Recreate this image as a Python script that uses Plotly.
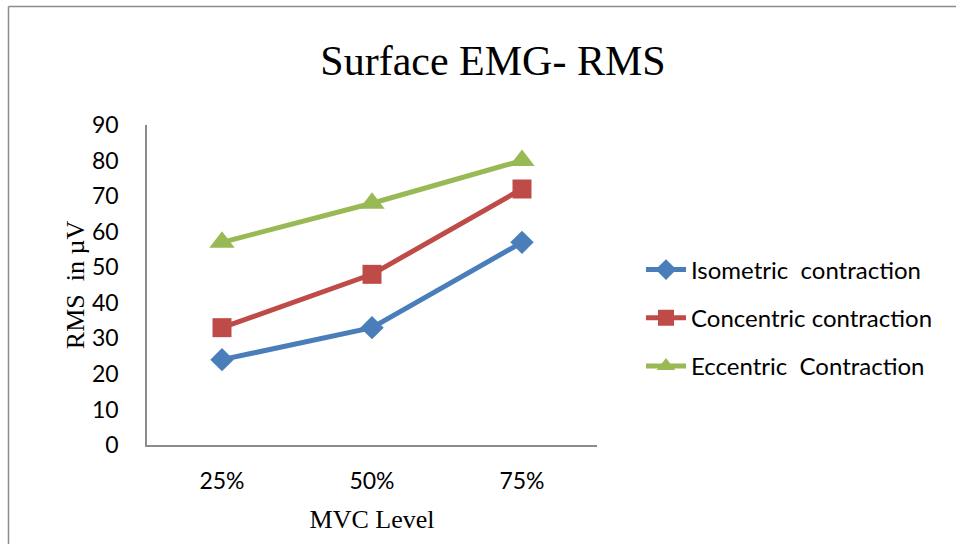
import plotly.graph_objects as go

categories = ["25%", "50%", "75%"]
isometric = [24, 33, 57]
concentric = [33, 48, 72]
eccentric = [57, 68, 80]
series_names = ["Isometric  contraction", "Concentric contraction", "Eccentric  Contraction"]

L, R, T, B = 147, 597, 125, 445
W, H = 956, 544
def px(x):
    return (x - L) / (R - L)
def py(y):
    return (B - y) / (B - T)

fig = go.Figure()
styles = [
    (isometric, "#4A7EBB", "diamond", 18),
    (concentric, "#BE4B48", "square", 19),
    (eccentric, "#98B954", "triangle-up", 22),
]
for i, (name, (vals, col, sym, sz)) in enumerate(zip(series_names, styles)):
    fig.add_trace(go.Scatter(
        x=categories, y=vals, name=name, mode="lines+markers",
        legendgroup=f"g{i}",
        line=dict(color=col, width=5),
        marker=dict(symbol=sym, size=sz, color=col),
    ))

fig.update_layout(
    width=W, height=H,
    paper_bgcolor="white", plot_bgcolor="white",
    margin=dict(l=L, r=W - R, t=T, b=H - B, pad=0),
    title=dict(text="Surface EMG- RMS", x=px(493), xref="paper", xanchor="center",
               y=1 - 60 / H, yanchor="middle",
               font=dict(family="Liberation Serif", size=42, color="black")),
    xaxis=dict(type="category", range=[-0.5, 2.5], showgrid=False, zeroline=False,
               showline=True, linecolor="#8c8c8c", linewidth=1.5, ticks="",
               tickfont=dict(family="Lato", size=23, color="black"),
               ticklabelstandoff=15,
               title=dict(text="MVC Level", standoff=16,
                          font=dict(family="Liberation Serif", size=26, color="black"))),
    yaxis=dict(range=[0, 90], dtick=10, showgrid=False, zeroline=False,
               showline=True, linecolor="#8c8c8c", linewidth=1.5, ticks="",
               tickfont=dict(family="Lato", size=23, color="black"),
               ticklabelstandoff=22,
               title=dict(text="RMS  in µV", standoff=0,
                          font=dict(family="Liberation Serif", size=26, color="black"))),
    legend=dict(x=px(641), y=py(318), xanchor="left", yanchor="middle",
                font=dict(family="Lato", size=24, color="black"),
                tracegroupgap=14, itemwidth=40, bgcolor="rgba(0,0,0,0)"),
    showlegend=True,
)
fig.add_shape(type="line", xref="paper", yref="paper",
              x0=px(8.5), x1=px(W + 2), y0=py(6.5), y1=py(6.5),
              line=dict(color="#8c8c8c", width=1.5))
fig.add_shape(type="line", xref="paper", yref="paper",
              x0=px(8.5), x1=px(8.5), y0=py(6.5), y1=py(H + 2),
              line=dict(color="#8c8c8c", width=1.5))

fig.write_html("out.html", config={"displayModeBar": False},
               post_script="document.body.style.margin='0';document.body.style.overflow='hidden';")
